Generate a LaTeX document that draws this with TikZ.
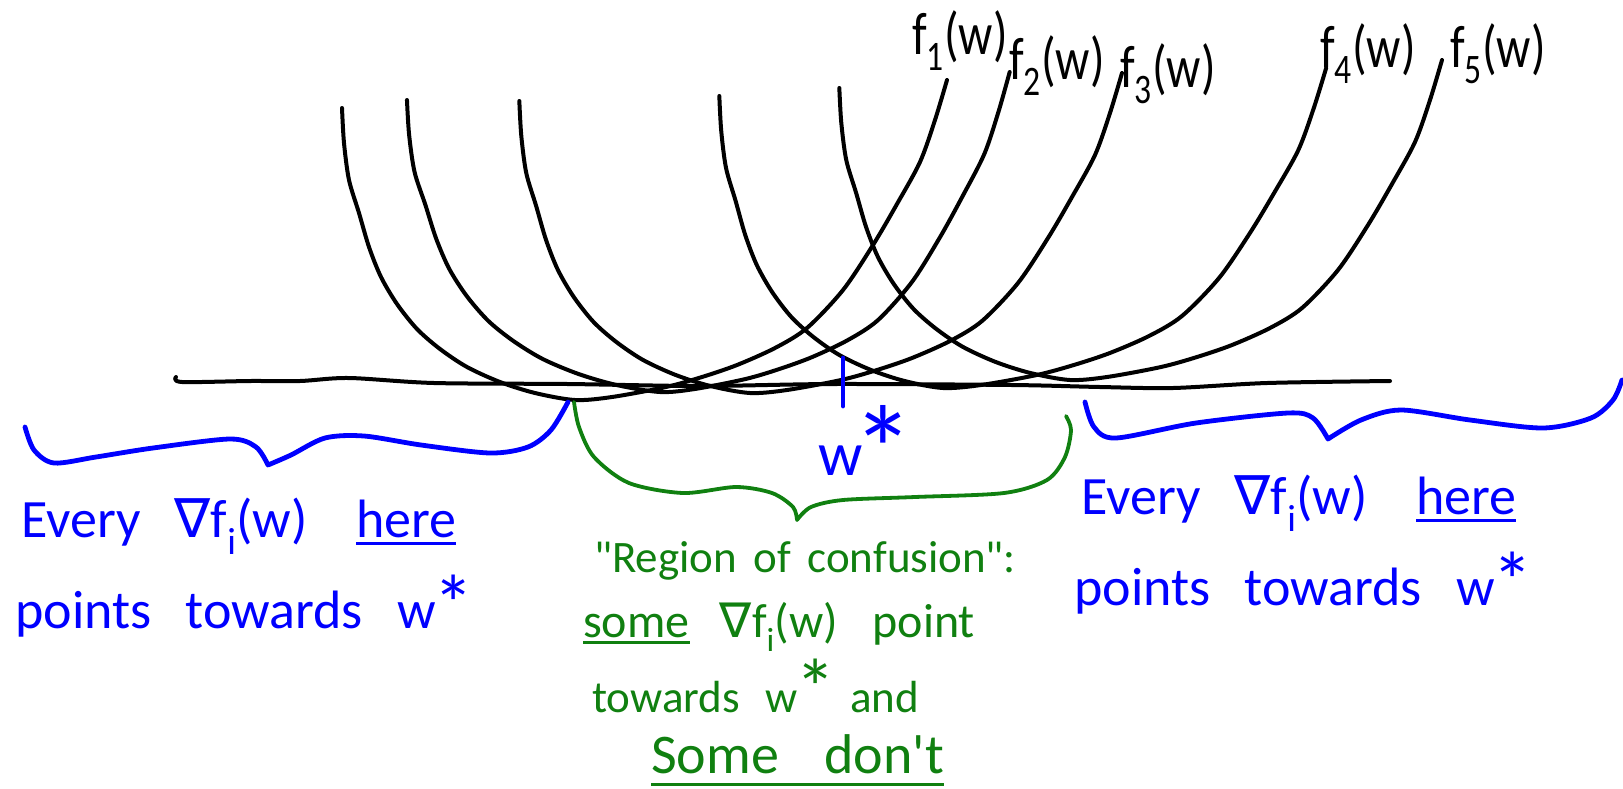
\documentclass[tikz,border=0pt]{standalone}
\usepackage{fontspec}
\setmainfont{Carlito}
\newfontfamily\hand{Carlito}[WordSpace=2.8]
\newfontfamily\symf{DejaVu Sans}
\usepackage{graphicx}
\definecolor{myblue}{RGB}{0,0,255}
\definecolor{mygreen}{RGB}{16,128,16}
\newcommand\hul[2][9pt]{\begingroup\setbox0\hbox{#2}\rlap{\rule[-#1]{\wd0}{3pt}}\box0\endgroup}
\newcommand\nab{{\symf ∇}}
\newcommand\wst[3]{w\kern#2\raisebox{#3}{\scalebox{#1}{*}}}
\newcommand\ucurve[4]{%
 \draw[fcurve] plot[smooth] coordinates {
 ({#1-233*#3},{#2-292}) ({#1-231*#3},{#2-257}) ({#1-226*#3},{#2-220}) ({#1-216*#3},{#2-187})
 ({#1-206*#3},{#2-153}) ({#1-194*#3},{#2-123}) ({#1-178*#3},{#2-96}) ({#1-158*#3},{#2-71})
 ({#1-135*#3},{#2-51}) ({#1-108*#3},{#2-33}) ({#1-75*#3},{#2-18}) ({#1-40*#3},{#2-7}) (#1,#2)
 ({#1+37*#4},{#2-3}) ({#1+91*#4},{#2-13}) ({#1+127*#4},{#2-23}) ({#1+162*#4},{#2-35})
 ({#1+200*#4},{#2-52}) ({#1+232*#4},{#2-72}) ({#1+268*#4},{#2-110}) ({#1+298*#4},{#2-155})
 ({#1+322*#4},{#2-196}) ({#1+345*#4},{#2-238}) ({#1+360*#4},{#2-280}) ({#1+372*#4},{#2-320})};}
\begin{document}
\begin{tikzpicture}[x=1pt,y=-1pt,
  fcurve/.style={draw=black, line width=4pt, line cap=round, line join=round},
  bluebrace/.style={draw=myblue, line width=4.8pt, line cap=round, line join=round},
  greenbrace/.style={draw=mygreen, line width=3.8pt, line cap=round, line join=round},
  flabel/.style={anchor=base west, inner sep=0pt, font=\hand\fontsize{48}{48}\selectfont},
  bluetext/.style={anchor=base west, inner sep=0pt, text=myblue, font=\hand\fontsize{54}{54}\selectfont},
  bigw/.style={anchor=base west, inner sep=0pt, text=myblue, font=\hand\fontsize{62}{62}\selectfont},
  greentext/.style={anchor=base west, inner sep=0pt, text=mygreen, font=\hand\fontsize{#1}{#1}\selectfont},
  greentext/.default=45,
]
\useasboundingbox (0,0) rectangle (1623,788);
\fill[white] (0,0) rectangle (1623,788);

% axis
\draw[fcurve] plot[smooth] coordinates {(176,377) (182,382) (250,381) (300,381) (349,378) (434,383) (568,384) (700,386) (834,384) (1012,385) (1100,387) (1173,388) (1267,383) (1390,381)};

% five loss curves
\ucurve{575}{400}{1}{1}
\ucurve{660}{392}{1.086}{0.94}
\ucurve{750}{393}{0.99}{1.0}
\ucurve{943}{388}{0.96}{1.03}
\ucurve{1070}{380}{0.99}{1.0}

% labels
\node[flabel] (f1) at (912,54) {\scalebox{1}[1.25]{f\textsubscript{1}(w)}};
\node[flabel] (f2) at (1009,79) {\scalebox{1}[1.25]{f\textsubscript{2}(w)}};
\node[flabel] (f3) at (1120,87) {\scalebox{1}[1.25]{f\textsubscript{3}(w)}};
\node[flabel] (f4) at (1320,67) {\scalebox{1}[1.25]{f\textsubscript{4}(w)}};
\node[flabel] (f5) at (1450,67) {\scalebox{1}[1.25]{f\textsubscript{5}(w)}};

% optimum tick and label
\coordinate (tickA) at (843,358);
\coordinate (tickB) at (843,406);
\draw[bluebrace] (tickA) -- (tickB);
\node[bigw] (wstar) at (818,475) {\wst{2}{-10pt}{-18pt}};

% left blue brace
\draw[bluebrace] plot[smooth] coordinates {(25,427) (34,450) (54,463) (96,457) (153,448) (230,439) (256,447) (268,465)}
  plot[smooth] coordinates {(268,465) (291,455) (325,438) (364,436) (421,445) (490,453) (528,447) (551,430) (568,402)};
% right blue brace
\draw[bluebrace] plot[smooth] coordinates {(1085,402) (1094,427) (1116,438) (1196,423) (1288,413) (1313,418) (1328,439)}
  plot[smooth] coordinates {(1328,439) (1361,420) (1401,410) (1470,420) (1543,428) (1591,418) (1613,400) (1622,380)};
% green brace
\draw[greenbrace] plot[smooth] coordinates {(574,402) (579,427) (594,457) (629,483) (683,493) (736,487) (772,493) (793,507) (797,520)}
  plot[smooth] coordinates {(797,520) (811,507) (843,500) (915,497) (1004,493) (1047,480) (1065,457) (1071,430) (1066,416)};

% blue texts
\node[bluetext] (bl1) at (21,537) {Every \nab f\textsubscript{i}(w) \hspace{14pt}\hul[8pt]{here}};
\node[bluetext] (bl2) at (15,628) {points towards \wst{1.5}{-2pt}{-4pt}};
\node[bluetext] (br1) at (1081,514) {Every \nab f\textsubscript{i}(w) \hspace{14pt}\hul[8pt]{here}};
\node[bluetext] (br2) at (1074,605) {points towards \wst{1.5}{-2pt}{-4pt}};

% green texts
\node[greentext] (g1) at (594,572) {"Region \hspace{-12pt}of \hspace{-12pt}confusion":};
\node[greentext=48] (g2) at (583,637) {\hul[7pt]{some} \nab f\textsubscript{i}(w) \hspace{4pt}point};
\node[greentext] (g3) at (592,712) {towards \hspace{-3pt}\wst{1.8}{-2pt}{-4pt} \hspace{-14pt}and};
\node[greentext=56] (g4) at (651,773) {\hul[13pt]{Some \hspace{10pt}don't}};
\end{tikzpicture}
\end{document}
